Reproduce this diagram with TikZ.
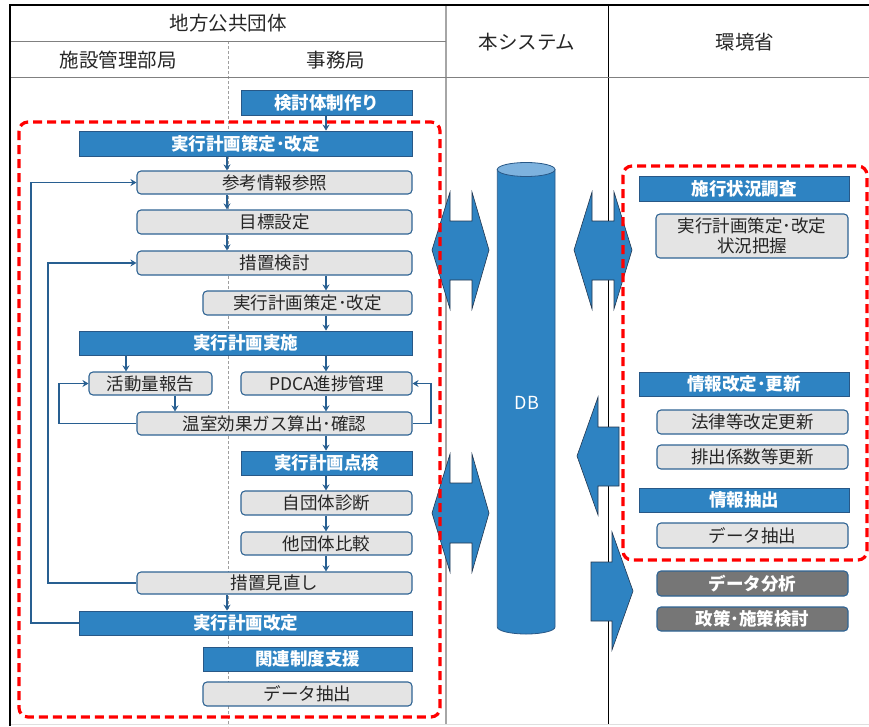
\documentclass[tikz,border=0pt]{standalone}
\usepackage{fontspec}
\newfontfamily\jp{Noto Sans CJK JP}
\usetikzlibrary{arrows.meta}
\definecolor{myblue}{RGB}{46,131,194}
\definecolor{blueedge}{RGB}{40,88,135}
\definecolor{grayfill}{RGB}{228,228,228}
\definecolor{grayedge}{RGB}{47,100,148}
\definecolor{darkfill}{RGB}{118,118,118}
\definecolor{arrowcol}{RGB}{40,95,145}
\definecolor{dbtop}{RGB}{125,178,222}
\definecolor{shapeedge}{RGB}{35,55,80}
\definecolor{txt}{RGB}{38,38,38}
\newcommand\jbox[7]{\node[#6, minimum width={(#4-#2)*1pt}, minimum height={(#5-#3)*1pt}] (#1) at ({(#2+#4)/2},{(#3+#5)/2}) {#7};}
\tikzset{
  bluebox/.style={rectangle, inner sep=0pt, fill=myblue, draw=blueedge, line width=0.8pt, text=white, font=\jp\bfseries\fontsize{17.5}{20}\selectfont},
  graybox/.style={rectangle, rounded corners=4pt, inner sep=0pt, fill=grayfill, draw=grayedge, line width=1.1pt, text=txt, font=\jp\fontsize{17.5}{20}\selectfont},
  darkbox/.style={rectangle, rounded corners=4pt, inner sep=0pt, fill=darkfill, draw=grayedge, line width=1.1pt, text=white, font=\jp\bfseries\fontsize{17.5}{20}\selectfont},
  head/.style={inner sep=0pt, text=txt, font=\jp\fontsize{19.5}{22}\selectfont},
  conn/.style={draw=arrowcol, line width=1.3pt, -{Stealth[length=6pt,width=7pt]}},
  loopline/.style={draw=arrowcol, line width=1.3pt, -{Stealth[length=6pt,width=7pt]}},
  bigarrow/.style={fill=myblue, draw=shapeedge, line width=0.6pt, line join=miter},
  reddash/.style={draw=red, line width=3.2pt, dash pattern=on 9pt off 5pt, rounded corners=9pt}
}
\begin{document}
\begin{tikzpicture}[x=1pt,y=-1pt]
\useasboundingbox (0,0) rectangle (869,726);
% table lines
\draw[gray!75, dash pattern=on 3pt off 2pt, line width=0.8pt] (228,41) -- (228,726);
\draw[gray!70, line width=1.5pt] (446,5) -- (446,724);
\draw[black, line width=0.8pt] (608,5) -- (608,724);
\draw[gray, line width=0.9pt] (10,41) -- (446,41);
\draw[gray, line width=0.9pt] (10,77) -- (869,77);
\draw[gray!25, line width=0.8pt] (10,724.5) -- (869,724.5);
\draw[black, line width=2pt] (10,5) -- (869,5);
\draw[black, line width=2pt] (10,4) -- (10,726);
% headers
\node[head] (hA) at (228,23) {地方公共団体};
\node[head] (hB) at (118,60) {施設管理部局};
\node[head] (hC) at (336,60) {事務局};
\node[head] (hD) at (527,42) {本システム};
\node[head] (hE) at (745,42) {環境省};
% column coordinates
\coordinate (cA) at (227,0);
\coordinate (cB) at (326,0);
\coordinate (cC) at (126,0);
\coordinate (cD) at (175,0);
\coordinate (l1) at (31,0);
\coordinate (l2) at (48,0);
\coordinate (lL) at (59,0);
\coordinate (lR) at (431,0);
% left nodes
\jbox{kentou}{241}{90}{412}{115}{bluebox}{検討体制作り}
\jbox{sakuteiA}{79}{131}{412}{156}{bluebox}{実行計画策定･改定}
\jbox{sankou}{137}{171}{412}{194}{graybox}{参考情報参照}
\jbox{mokuhyo}{137}{210}{412}{234}{graybox}{目標設定}
\jbox{sochi}{137}{251}{412}{275}{graybox}{措置検討}
\jbox{sakuteiB}{203}{291}{412}{315}{graybox}{実行計画策定･改定}
\jbox{jisshi}{79}{331}{412}{355}{bluebox}{実行計画実施}
\jbox{katsudo}{89}{372}{212}{395}{graybox}{活動量報告}
\jbox{pdca}{241}{372}{412}{395}{graybox}{PDCA進捗管理}
\jbox{onshitsu}{137}{412}{412}{435}{graybox}{温室効果ガス算出･確認}
\jbox{tenken}{241}{451}{412}{475}{bluebox}{実行計画点検}
\jbox{jidan}{241}{491}{412}{515}{graybox}{自団体診断}
\jbox{tadan}{241}{532}{412}{555}{graybox}{他団体比較}
\jbox{minaoshi}{137}{572}{412}{594}{graybox}{措置見直し}
\jbox{kaitei}{79}{611}{412}{635}{bluebox}{実行計画改定}
\jbox{kanren}{203}{647}{412}{671}{bluebox}{関連制度支援}
\jbox{chushutsuA}{203}{682}{412}{706}{graybox}{データ抽出}
% right nodes
\jbox{shikou}{639}{176}{849}{201}{bluebox}{施行状況調査}
\jbox{haaku}{656}{214}{848}{258}{graybox,align=center}{実行計画策定･改定\\状況把握}
\jbox{joho}{639}{372}{849}{396}{bluebox}{情報改定･更新}
\jbox{horitsu}{657}{410}{848}{434}{graybox}{法律等改定更新}
\jbox{haishutsu}{657}{445}{848}{469}{graybox}{排出係数等更新}
\jbox{jchushutsu}{639}{488}{849}{512}{bluebox}{情報抽出}
\jbox{chushutsuB}{657}{523}{848}{548}{graybox}{データ抽出}
\jbox{bunseki}{657}{571}{848}{596}{darkbox}{データ分析}
\jbox{seisaku}{657}{607}{848}{631}{darkbox}{政策･施策検討}
% connectors
\draw[conn] (kentou.south -| cB) -- (sakuteiA.north -| cB);
\draw[conn] (sakuteiA.south -| cA) -- (sankou.north -| cA);
\draw[conn] (sankou.south -| cA) -- (mokuhyo.north -| cA);
\draw[conn] (mokuhyo.south -| cA) -- (sochi.north -| cA);
\draw[conn] (sochi.south -| cB) -- (sakuteiB.north -| cB);
\draw[conn] (sakuteiB.south -| cB) -- (jisshi.north -| cB);
\draw[conn] (jisshi.south -| cC) -- (katsudo.north -| cC);
\draw[conn] (jisshi.south -| cB) -- (pdca.north -| cB);
\draw[conn] (katsudo.south -| cD) -- (onshitsu.north -| cD);
\draw[conn] (pdca.south -| cB) -- (onshitsu.north -| cB);
\draw[conn] (onshitsu.south -| cB) -- (tenken.north -| cB);
\draw[conn] (tenken.south -| cB) -- (jidan.north -| cB);
\draw[conn] (jidan.south -| cB) -- (tadan.north -| cB);
\draw[conn] (tadan.south -| cB) -- (minaoshi.north -| cB);
\draw[conn] (minaoshi.south -| cA) -- (kaitei.north -| cA);
\draw[loopline] (onshitsu.west) -- (onshitsu.west -| lL) |- (katsudo.west);
\draw[loopline] (onshitsu.east) -- (onshitsu.east -| lR) |- (pdca.east);
\draw[loopline] (minaoshi.west) -- (minaoshi.west -| l2) |- (sochi.west);
\draw[loopline] (kaitei.west) -- (kaitei.west -| l1) |- (sankou.west);
% DB cylinder
\draw[fill=myblue, draw=blueedge, line width=0.8pt] (497.3,169.5) -- (497.3,627) arc[start angle=180, end angle=360, x radius=28.85pt, y radius=7pt] -- (555,169.5) -- cycle;
\draw[fill=dbtop, draw=blueedge, line width=0.8pt] (526.15,169.5) ellipse[x radius=28.85pt, y radius=7pt];
\node[inner sep=0pt, text=white, font=\jp\fontsize{18}{20}\selectfont] (db) at (527,403) {DB};
% big arrows
\draw[bigarrow] (432,250) -- (450,192) -- (450,221) -- (472,221) -- (472,192) -- (489,250) -- (472,309) -- (472,280) -- (450,280) -- (450,309) -- cycle;
\draw[bigarrow] (574,250) -- (592,192) -- (592,221) -- (614,221) -- (614,192) -- (632,250) -- (614,309) -- (614,280) -- (592,280) -- (592,309) -- cycle;
\draw[bigarrow] (432,513) -- (450,454) -- (450,483) -- (472,483) -- (472,454) -- (489,513) -- (472,572) -- (472,543) -- (450,543) -- (450,572) -- cycle;
\draw[bigarrow] (577,456) -- (598,397) -- (598,427) -- (619,427) -- (619,486) -- (598,486) -- (598,515) -- cycle;
\draw[bigarrow] (591,562) -- (612,562) -- (612,532) -- (633,591) -- (612,650) -- (612,621) -- (591,621) -- cycle;
% red dashed groups
\draw[reddash] (19,122) rectangle (440,717);
\draw[reddash] (623,166) rectangle (867,560);
\end{tikzpicture}
\end{document}
